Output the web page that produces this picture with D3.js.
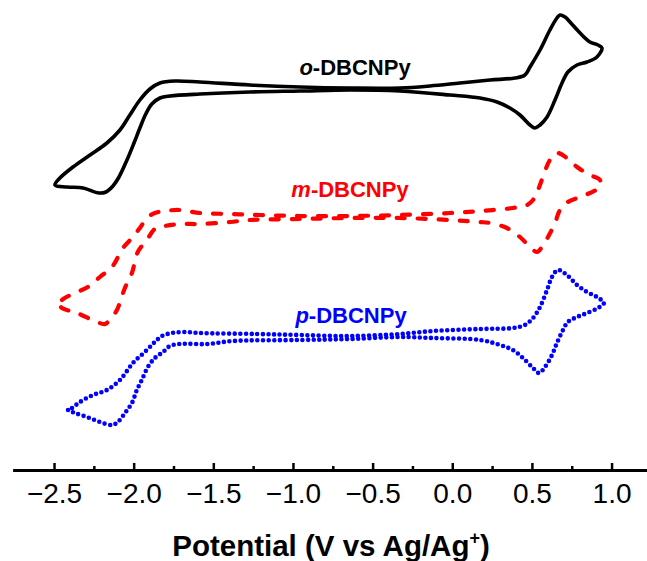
<!DOCTYPE html>
<html>
<head>
<meta charset="utf-8">
<script src="https://cdn.jsdelivr.net/npm/d3@7"></script>
<style>
  html, body { margin: 0; padding: 0; background: #fff; }
  svg { display: block; font-family: "Liberation Sans", Arial, sans-serif; }
</style>
</head>
<body>
<svg id="chart" width="647" height="561"></svg>
<script>
// ---- data (potential in V, current in arbitrary units, offset per curve) ----
const oPotential = [-2.494,-2.463,-2.381,-2.274,-2.168,-2.086,-2.024,-1.961,-1.898,-1.835,-1.741,-1.584,-1.270,-0.956,-0.643,-0.328,-0.140,0.048,0.237,0.394,0.456,0.488,0.551,0.613,0.657,0.676,0.708,0.739,0.802,0.864,0.915,0.940,0.908,0.846,0.783,0.726,0.689,0.645,0.595,0.551,0.519,0.488,0.425,0.362,0.281,0.174,-0.014,-0.328,-0.643,-0.956,-1.270,-1.584,-1.772,-1.835,-1.886,-1.924,-1.961,-1.998,-2.042,-2.092,-2.130,-2.174,-2.218,-2.318,-2.419];
const oCurrent   = [28.5,29.2,30.3,31.5,32.7,34.0,35.5,37.0,38.1,38.7,38.9,38.8,38.5,38.3,38.2,38.2,38.4,38.7,39.0,39.2,39.5,40.3,42.0,44.0,45.2,45.5,45.3,44.8,43.7,42.8,42.5,42.2,41.3,40.8,40.5,39.8,38.7,37.0,35.3,34.5,34.2,34.5,35.5,36.2,36.8,37.2,37.5,37.9,38.0,37.9,37.8,37.6,37.4,37.2,36.6,35.6,34.2,32.7,31.0,29.3,28.4,27.8,27.7,28.2,28.3];

const mPotential = [-2.463,-2.450,-2.369,-2.287,-2.212,-2.136,-2.067,-2.005,-1.961,-1.917,-1.867,-1.804,-1.710,-1.584,-1.396,-1.208,-0.956,-0.643,-0.328,-0.014,0.174,0.380,0.469,0.507,0.538,0.569,0.613,0.657,0.720,0.783,0.864,0.927,0.927,0.864,0.802,0.726,0.676,0.645,0.601,0.563,0.532,0.488,0.425,0.343,0.237,0.174,-0.014,-0.328,-0.643,-0.956,-1.270,-1.396,-1.584,-1.710,-1.804,-1.867,-1.917,-1.974,-2.011,-2.055,-2.105,-2.136,-2.180,-2.230,-2.356,-2.450];
const mCurrent   = [16.5,17.0,17.7,18.3,19.3,20.3,22.2,23.3,24.2,25.2,25.7,25.9,26.0,25.7,25.6,25.5,25.4,25.4,25.5,25.7,25.9,26.2,26.5,27.0,28.0,29.3,31.0,31.7,31.2,30.3,29.5,29.0,28.3,27.7,27.3,26.8,26.0,24.7,23.3,22.3,21.8,22.3,23.3,24.2,24.7,24.8,25.0,25.2,25.2,25.1,25.0,24.8,24.6,24.6,24.4,24.1,23.0,21.8,19.7,18.2,16.0,15.3,14.6,14.8,15.7,16.2];

const pPotential = [-2.412,-2.387,-2.337,-2.255,-2.168,-2.086,-2.005,-1.930,-1.867,-1.822,-1.760,-1.679,-1.584,-1.226,-0.956,-0.643,-0.328,-0.121,0.174,0.380,0.456,0.507,0.551,0.595,0.626,0.664,0.720,0.783,0.846,0.908,0.952,0.915,0.846,0.783,0.726,0.689,0.657,0.626,0.582,0.544,0.507,0.444,0.380,0.299,0.174,-0.121,-0.328,-0.643,-0.956,-1.377,-1.541,-1.710,-1.772,-1.816,-1.867,-1.911,-1.949,-1.980,-2.011,-2.055,-2.099,-2.136,-2.212,-2.293,-2.369];
const pCurrent   = [6.0,6.2,6.8,7.5,8.0,9.0,10.7,11.8,12.8,13.4,13.7,13.8,13.7,13.6,13.5,13.4,13.6,13.9,14.1,14.2,14.5,15.2,16.3,18.0,19.3,20.0,19.5,18.5,17.8,17.3,16.7,16.2,15.7,15.3,14.8,13.8,12.7,11.5,10.3,9.7,10.2,11.2,12.0,12.5,13.0,13.2,13.3,13.1,13.0,12.9,12.6,12.6,12.4,11.8,11.2,10.3,9.0,8.0,6.7,5.7,4.8,4.5,4.8,5.3,5.7];

const seriesNames = ["o", "m", "p"];
const majorTicks = [-2.5, -2.0, -1.5, -1.0, -0.5, 0.0, 0.5, 1.0];
const minorTicks = [-2.25, -1.75, -1.25, -0.75, -0.25, 0.25, 0.75];
const axisTitle = "Potential (V vs Ag/Ag";

// ---- drawing ----
const svg = d3.select("#chart");
const x = d3.scaleLinear().domain([-2.76, 1.225]).range([12.6, 647.4]);
const y = d3.scaleLinear().domain([0, 47]).range([470, 0]);

const series = [
  { name: seriesNames[0], v: oPotential, i: oCurrent, color: "#000000", dash: null, width: 3.6, cap: "round" },
  { name: seriesNames[1], v: mPotential, i: mCurrent, color: "#ff0000", dash: "8 13", width: 4.2, cap: "round" },
  { name: seriesNames[2], v: pPotential, i: pCurrent, color: "#0000ff", dash: "0 5.6", width: 4.6, cap: "round" }
];

const line = d3.line()
  .x(d => x(d[0]))
  .y(d => y(d[1]))
  .curve(d3.curveCatmullRomClosed.alpha(0.5));

series.forEach(s => {
  const pts = s.v.map((v, k) => [v, s.i[k]]);
  const p = svg.append("path")
    .attr("d", line(pts))
    .attr("fill", "none")
    .attr("stroke", s.color)
    .attr("stroke-width", s.width)
    .attr("stroke-linecap", s.cap)
    .attr("stroke-linejoin", "round");
  if (s.dash) p.attr("stroke-dasharray", s.dash);
});

// curve labels
const labels = [
  { prefix: "o", x: 355, y: 75, color: "#000000" },
  { prefix: "m", x: 350, y: 197, color: "#ff0000" },
  { prefix: "p", x: 351, y: 323, color: "#0000ff" }
];
labels.forEach(l => {
  const t = svg.append("text")
    .attr("x", l.x).attr("y", l.y)
    .attr("text-anchor", "middle")
    .attr("font-size", 22).attr("font-weight", "bold")
    .attr("fill", l.color);
  t.append("tspan").attr("font-style", "italic").text(l.prefix);
  t.append("tspan").text("-DBCNPy");
});

// axis
const gx = svg.append("g").attr("transform", "translate(0,470)");
gx.call(d3.axisBottom(x).tickValues(majorTicks).tickSize(-7).tickSizeOuter(0)
  .tickPadding(13).tickFormat(d3.format(".1f")));
gx.select(".domain").attr("stroke", "#000").attr("stroke-width", 3);
gx.selectAll(".tick line").attr("stroke", "#000").attr("stroke-width", 2.5);
gx.selectAll(".tick text").attr("font-size", 28).attr("fill", "#000")
  .attr("font-family", "'Liberation Sans', Arial, sans-serif");

const gm = svg.append("g").attr("transform", "translate(0,470)");
gm.call(d3.axisBottom(x).tickValues(minorTicks).tickSize(-4).tickSizeOuter(0).tickFormat(""));
gm.select(".domain").remove();
gm.selectAll(".tick line").attr("stroke", "#000").attr("stroke-width", 2.5);

// axis title
const title = svg.append("text")
  .attr("x", 331).attr("y", 556)
  .attr("text-anchor", "middle")
  .attr("font-size", 29.5).attr("font-weight", "bold").attr("fill", "#000");
title.append("tspan").text(axisTitle);
title.append("tspan").attr("font-size", 18).attr("dy", -12).text("+");
title.append("tspan").attr("dy", 12).text(")");
</script>
</body>
</html>
